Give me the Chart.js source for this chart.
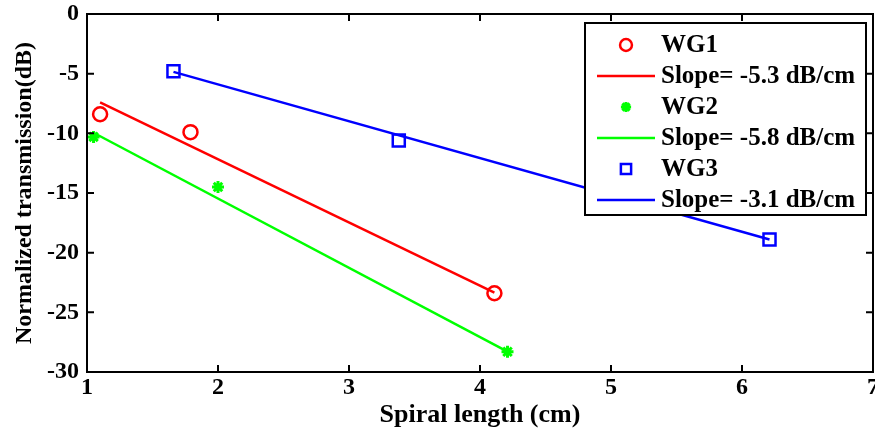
<!DOCTYPE html>
<html>
<head>
<meta charset="utf-8">
<script src="https://cdn.jsdelivr.net/npm/chart.js@4"></script>
<style>
  html, body { margin: 0; padding: 0; background: #fff; }
  #wrap { width: 875px; height: 433px; }
</style>
</head>
<body>
<div id="wrap"><canvas id="c" width="875" height="433"></canvas></div>
<script>
// measured points
const wg1X = [1.1, 1.79, 4.11];
const wg1Y = [-8.4, -9.9, -23.4];
const wg2X = [1.05, 2.0, 4.21];
const wg2Y = [-10.3, -14.5, -28.3];
const wg3X = [1.66, 3.38, 6.21];
const wg3Y = [-4.8, -10.6, -18.9];

// linear fits (endpoints)
const fit1X = [1.1, 4.11];
const fit1Y = [-7.4, -23.35];
const fit2X = [1.05, 4.21];
const fit2Y = [-9.95, -28.3];
const fit3X = [1.66, 6.21];
const fit3Y = [-4.85, -18.9];

const xTicks = [1, 2, 3, 4, 5, 6, 7];
const yTicks = [0, -5, -10, -15, -20, -25, -30];

const FONT = "'Liberation Serif', 'Times New Roman', serif";
const pts = (xs, ys) => xs.map((x, i) => ({ x: x, y: ys[i] }));

const RED = '#ff0000', GREEN = '#00ff00', BLUE = '#0000ff';

// MATLAB style box with inward ticks, x tick labels drawn here so "7" can sit on the edge
const boxPlugin = {
    id: 'box',
    afterDatasetsDraw(chart) {
        const { ctx, chartArea: a, scales } = chart;
        ctx.save();
        ctx.strokeStyle = '#000';
        ctx.lineWidth = 2;
        ctx.strokeRect(a.left, a.top, a.right - a.left, a.bottom - a.top);
        ctx.beginPath();
        xTicks.forEach(v => {
            const px = scales.x.getPixelForValue(v);
            ctx.moveTo(px, a.bottom); ctx.lineTo(px, a.bottom - 7);
            ctx.moveTo(px, a.top); ctx.lineTo(px, a.top + 7);
        });
        yTicks.forEach(v => {
            const py = scales.y.getPixelForValue(v);
            ctx.moveTo(a.left, py); ctx.lineTo(a.left + 7, py);
            ctx.moveTo(a.right, py); ctx.lineTo(a.right - 7, py);
        });
        ctx.stroke();

        ctx.fillStyle = '#000';
        ctx.font = 'bold 24px ' + FONT;
        ctx.textAlign = 'center';
        ctx.textBaseline = 'middle';
        xTicks.forEach(v => {
            ctx.fillText(String(v), scales.x.getPixelForValue(v), a.bottom + 16);
        });
        ctx.restore();
    }
};

const legendPlugin = {
    id: 'matlabLegend',
    afterDraw(chart) {
        const { ctx } = chart;
        const x0 = 585, y0 = 23, w = 281, h = 192;
        ctx.save();
        ctx.fillStyle = '#fff';
        ctx.fillRect(x0, y0, w, h);
        ctx.strokeStyle = '#000';
        ctx.lineWidth = 2;
        ctx.strokeRect(x0, y0, w, h);
        ctx.font = 'bold 25px ' + FONT;
        ctx.textBaseline = 'middle';
        ctx.textAlign = 'left';
        const rowH = 31;
        chart.data.datasets.forEach((ds, i) => {
            const cy = y0 + 22 + i * rowH;
            if (ds.showLine) {
                ctx.strokeStyle = ds.borderColor;
                ctx.lineWidth = 2.5;
                ctx.beginPath();
                ctx.moveTo(597, cy); ctx.lineTo(655, cy);
                ctx.stroke();
            } else {
                ctx.strokeStyle = ds.borderColor;
                ctx.fillStyle = ds.pointBackgroundColor;
                ctx.lineWidth = ds.pointBorderWidth;
                Chart.helpers.drawPoint(ctx, {
                    pointStyle: ds.pointStyle, radius: ds.pointRadius * 0.85, rotation: 0, borderWidth: ds.pointBorderWidth
                }, 626, cy);
            }
            ctx.fillStyle = '#000';
            ctx.fillText(ds.label, 661, cy + 1);
        });
        ctx.restore();
    }
};

const scatterSet = (label, data, color, style, r, bw, fill) => ({
    label: label, data: data, showLine: false,
    pointStyle: style, pointRadius: r, pointBorderWidth: bw,
    borderColor: color, backgroundColor: fill ? color : 'rgba(0,0,0,0)',
    pointBackgroundColor: fill ? color : 'rgba(0,0,0,0)'
});
const lineSet = (label, data, color) => ({
    label: label, data: data, showLine: true, borderColor: color,
    backgroundColor: color, borderWidth: 2.5, pointRadius: 0, fill: false
});

new Chart(document.getElementById('c'), {
    type: 'scatter',
    data: {
        datasets: [
            scatterSet('WG1', pts(wg1X, wg1Y), RED, 'circle', 7, 2.5, false),
            lineSet('Slope= -5.3 dB/cm', pts(fit1X, fit1Y), RED),
            scatterSet('WG2', pts(wg2X, wg2Y), GREEN, 'star', 6, 3, true),
            lineSet('Slope= -5.8 dB/cm', pts(fit2X, fit2Y), GREEN),
            scatterSet('WG3', pts(wg3X, wg3Y), BLUE, 'rect', 8.5, 2.5, false),
            lineSet('Slope= -3.1 dB/cm', pts(fit3X, fit3Y), BLUE)
        ]
    },
    options: {
        responsive: false,
        animation: false,
        layout: { autoPadding: false, padding: { top: 14, right: 2, left: 0, bottom: 0 } },
        plugins: { legend: { display: false }, tooltip: { enabled: false } },
        scales: {
            x: {
                type: 'linear', min: 1, max: 7,
                afterBuildTicks: s => { s.ticks = xTicks.map(v => ({ value: v })); },
                afterFit: s => { s.height = 61; s.paddingLeft = 0; s.paddingRight = 0; },
                grid: { display: false, drawTicks: false },
                border: { display: false },
                ticks: { display: false },
                title: { display: true, text: 'Spiral length (cm)', color: '#000', padding: { top: 0, bottom: 2 },
                         font: { family: FONT, size: 26, weight: 'bold' } }
            },
            y: {
                type: 'linear', min: -30, max: 0,
                afterBuildTicks: s => { s.ticks = yTicks.map(v => ({ value: v })); },
                afterFit: s => { s.width = 87; s.paddingTop = 0; s.paddingBottom = 0; },
                grid: { display: false, drawTicks: false },
                border: { display: false },
                ticks: { color: '#000', padding: 8, font: { family: FONT, size: 24, weight: 'bold' } },
                title: { display: true, text: 'Normalized transmission(dB)', color: '#000', padding: { top: 10, bottom: 0 },
                         font: { family: FONT, size: 24, weight: 'bold' } }
            }
        }
    },
    plugins: [boxPlugin, legendPlugin]
});
</script>
</body>
</html>
